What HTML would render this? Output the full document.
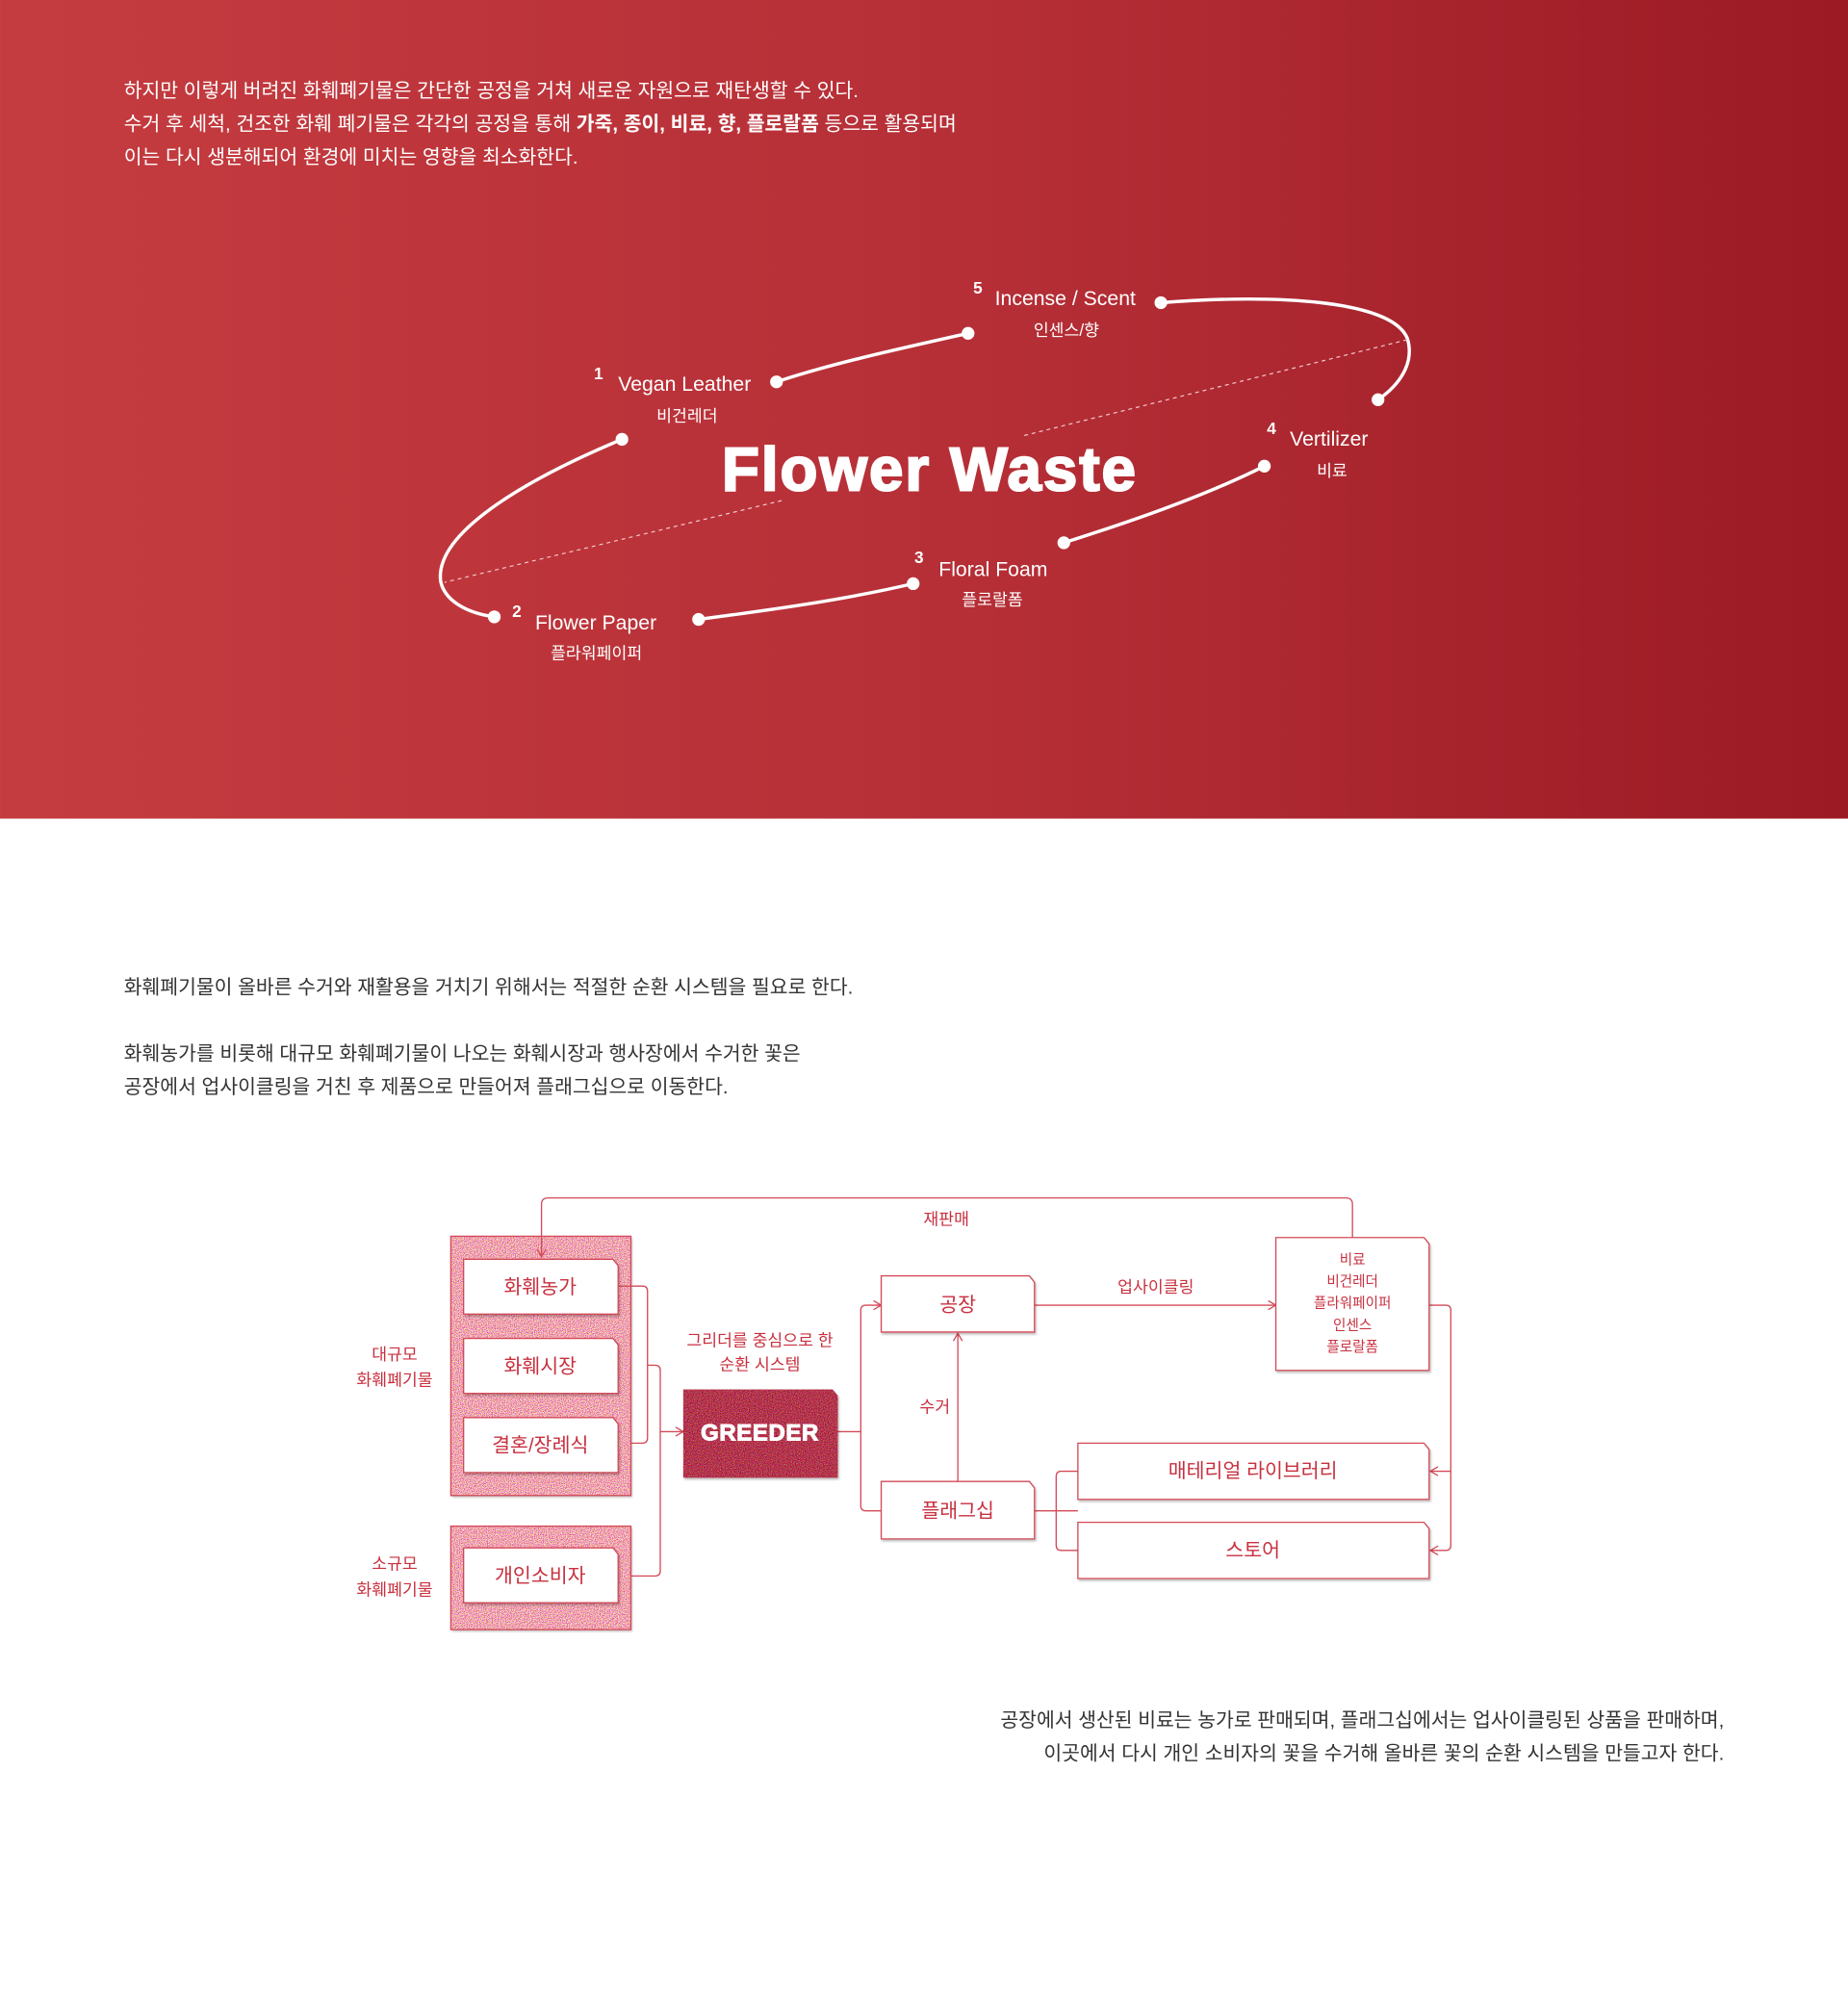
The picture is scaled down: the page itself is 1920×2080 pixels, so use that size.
<!DOCTYPE html>
<html><head><meta charset="utf-8"><style>
html,body{margin:0;padding:0;background:#fff;}
svg{display:block;}
text{font-family:"Liberation Sans","Noto Sans CJK KR",sans-serif;}
</style></head><body>
<svg width="1920" height="2080" viewBox="0 0 1447 1567.6" xmlns="http://www.w3.org/2000/svg">
<defs>
<linearGradient id="bg" x1="0" y1="0" x2="1" y2="0">
<stop offset="0" stop-color="#c53c40"/><stop offset="0.55" stop-color="#b52e36"/><stop offset="1" stop-color="#9b1a24"/>
</linearGradient>
<filter id="pinknoise" x="0" y="0" width="100%" height="100%" color-interpolation-filters="sRGB">
<feTurbulence type="fractalNoise" baseFrequency="1.6" numOctaves="1" seed="3"/>
<feColorMatrix values="0.8 0 0 0 0.55  0 2.4 0 0 -0.55  0 0 2.2 0 -0.4  0 0 0 0 1"/>
</filter>
<filter id="rednoise" x="0" y="0" width="100%" height="100%" color-interpolation-filters="sRGB">
<feTurbulence type="fractalNoise" baseFrequency="1.6" numOctaves="1" seed="7"/>
<feColorMatrix values="1.2 0 0 0 0.1  0 1.6 0 0 -0.6  0 0 1.6 0 -0.5  0 0 0 0 1"/>
</filter>
<filter id="sh"><feDropShadow dx="1" dy="1.5" stdDeviation="0.8" flood-color="#000" flood-opacity="0.25"/></filter>
<marker id="ar" markerWidth="8" markerHeight="8" refX="7" refY="4" orient="auto" markerUnits="userSpaceOnUse">
<path d="M1,0.5 L7,4 L1,7.5" fill="none" stroke="#d34a58" stroke-width="1"/></marker>
</defs>

<rect x="0" y="0" width="1447" height="641" fill="url(#bg)"/>
<g fill="#fff" font-size="15.4">
<text x="97" y="76">하지만 이렇게 버려진 화훼폐기물은 간단한 공정을 거쳐 새로운 자원으로 재탄생할 수 있다.</text>
<text x="97" y="102">수거 후 세척, 건조한 화훼 폐기물은 각각의 공정을 통해 <tspan font-weight="bold">가죽, 종이, 비료, 향, 플로랄폼</tspan> 등으로 활용되며</text>
<text x="97" y="128">이는 다시 생분해되어 환경에 미치는 영향을 최소화한다.</text>
</g>

<g stroke="#fff" stroke-width="2.6" fill="none" stroke-linecap="round">
<path d="M909,237 C1000,230 1090,235 1102,265 C1108,285 1095,302 1079,313"/>
<path d="M758,261 C700,274 650,285 608,299"/>
<path d="M487,344 C420,372 340,415 345,455 C348,470 365,480 387,483"/>
<path d="M547,485 C600,478 660,470 715,457"/>
<path d="M833,425 C880,410 940,390 990,365"/>
</g>
<g stroke="#f3c9cc" stroke-width="0.9" stroke-dasharray="3,3" fill="none">
<line x1="802" y1="341" x2="1102" y2="266"/>
<line x1="612" y1="392" x2="348" y2="456"/>
</g>
<g fill="#fff">
<circle cx="909" cy="237" r="5"/><circle cx="1079" cy="313" r="5"/>
<circle cx="758" cy="261" r="5"/><circle cx="608" cy="299" r="5"/>
<circle cx="487" cy="344" r="5"/><circle cx="387" cy="483" r="5"/>
<circle cx="547" cy="485" r="5"/><circle cx="715" cy="457" r="5"/>
<circle cx="833" cy="425" r="5"/><circle cx="990" cy="365" r="5"/>
</g>
<g fill="#fff">
<text x="762" y="230" font-size="13" font-weight="bold">5</text>
<text x="779" y="239" font-size="16">Incense / Scent</text>
<text x="835" y="263" font-size="13" text-anchor="middle">인센스/향</text>
<text x="465" y="297" font-size="13" font-weight="bold">1</text>
<text x="484" y="306" font-size="16">Vegan Leather</text>
<text x="538" y="330" font-size="13" text-anchor="middle">비건레더</text>
<text x="401" y="483" font-size="13" font-weight="bold">2</text>
<text x="419" y="493" font-size="16">Flower Paper</text>
<text x="467" y="516" font-size="13" text-anchor="middle">플라워페이퍼</text>
<text x="716" y="441" font-size="13" font-weight="bold">3</text>
<text x="735" y="451" font-size="16">Floral Foam</text>
<text x="777" y="474" font-size="13" text-anchor="middle">플로랄폼</text>
<text x="992" y="340" font-size="13" font-weight="bold">4</text>
<text x="1010" y="349" font-size="16">Vertilizer</text>
<text x="1043" y="373" font-size="13" text-anchor="middle">비료</text>
<text x="728" y="384" font-size="48" font-weight="bold" text-anchor="middle" letter-spacing="1.5" stroke="#fff" stroke-width="1.6">Flower Waste</text>
</g>

<g fill="#333" font-size="15.4">
<text x="97" y="778">화훼폐기물이 올바른 수거와 재활용을 거치기 위해서는 적절한 순환 시스템을 필요로 한다.</text>
<text x="97" y="830">화훼농가를 비롯해 대규모 화훼폐기물이 나오는 화훼시장과 행사장에서 수거한 꽃은</text>
<text x="97" y="856">공장에서 업사이클링을 거친 후 제품으로 만들어져 플래그십으로 이동한다.</text>
<text x="1350" y="1352" text-anchor="end">공장에서 생산된 비료는 농가로 판매되며, 플래그십에서는 업사이클링된 상품을 판매하며,</text>
<text x="1350" y="1378" text-anchor="end">이곳에서 다시 개인 소비자의 꽃을 수거해 올바른 꽃의 순환 시스템을 만들고자 한다.</text>
</g>

<!-- pink noisy panels -->
<g filter="url(#sh)">
<rect x="353" y="968" width="141" height="203" fill="#e9a3ad"/>
<rect x="353" y="1195" width="141" height="81" fill="#e9a3ad"/>
</g>
<rect x="353" y="968" width="141" height="203" fill="#fff" filter="url(#pinknoise)"/>
<rect x="353" y="1195" width="141" height="81" fill="#fff" filter="url(#pinknoise)"/>
<rect x="353" y="968" width="141" height="203" fill="none" stroke="#d34a58" stroke-width="1"/>
<rect x="353" y="1195" width="141" height="81" fill="none" stroke="#d34a58" stroke-width="1"/>

<!-- diagram -->
<g stroke="#d34a58" stroke-width="1" fill="none">
<path d="M1059,969 V943 Q1059,938 1054,938 H429 Q424,938 424,943 V984" marker-end="url(#ar)"/>
<path d="M484,1007 H503 Q507,1007 507,1011 V1126 Q507,1130 503,1130 H494"/>
<path d="M507,1069 H513 Q517,1069 517,1073 V1230 Q517,1234 513,1234 H494"/>
<path d="M517,1121 H535" marker-end="url(#ar)"/>
<path d="M656,1121 H674"/>
<path d="M690,1022 H678 Q674,1022 674,1026 V1179 Q674,1183 678,1183 H690"/>
<path d="M686,1022 H690" marker-end="url(#ar)"/>
<path d="M750,1160 V1044" marker-end="url(#ar)"/>
<path d="M810,1022 H999" marker-end="url(#ar)"/>
<path d="M1119,1022 H1132 Q1136,1022 1136,1026 V1210 Q1136,1214 1132,1214 H1120" marker-end="url(#ar)"/>
<path d="M1136,1152 H1120" marker-end="url(#ar)"/>
<path d="M810,1183 H844"/>
<path d="M844,1152 H831 Q827,1152 827,1156 V1210 Q827,1214 831,1214 H844"/>
</g>
<g fill="#c8303f" font-size="13" text-anchor="middle">
<text x="741" y="959">재판매</text>
<text x="905" y="1012">업사이클링</text>
<text x="732" y="1106">수거</text>
<text x="595" y="1054">그리더를 중심으로 한</text>
<text x="595" y="1073">순환 시스템</text>
<text x="309" y="1065">대규모</text>
<text x="309" y="1085">화훼폐기물</text>
<text x="309" y="1229">소규모</text>
<text x="309" y="1249">화훼폐기물</text>
</g>

<g fill="#fff" stroke="#d34a58" stroke-width="1" filter="url(#sh)">
<path d="M363,986 H480 L484,991 V1029 H363 Z"/>
<path d="M363,1048 H480 L484,1053 V1091 H363 Z"/>
<path d="M363,1110 H480 L484,1115 V1153 H363 Z"/>
<path d="M363,1212 H480 L484,1217 V1255 H363 Z"/>
<path d="M690,999 H806 L810,1004 V1043 H690 Z"/>
<path d="M690,1160 H806 L810,1165 V1205 H690 Z"/>
<path d="M999,969 H1115 L1119,974 V1073 H999 Z"/>
<path d="M844,1130 H1115 L1119,1135 V1174 H844 Z"/>
<path d="M844,1192 H1115 L1119,1197 V1236 H844 Z"/>
</g>
<g fill="#c8303f" font-size="15.5" text-anchor="middle">
<text x="423" y="1013">화훼농가</text>
<text x="423" y="1075">화훼시장</text>
<text x="423" y="1137">결혼/장례식</text>
<text x="423" y="1239">개인소비자</text>
<text x="750" y="1027">공장</text>
<text x="750" y="1188">플래그십</text>
<text x="981" y="1157">매테리얼 라이브러리</text>
<text x="981" y="1219">스토어</text>
</g>
<g fill="#c8303f" font-size="11" text-anchor="middle">
<text x="1059" y="990">비료</text>
<text x="1059" y="1007">비건레더</text>
<text x="1059" y="1024">플라워페이퍼</text>
<text x="1059" y="1041">인센스</text>
<text x="1059" y="1058">플로랄폼</text>
</g>

<!-- GREEDER -->
<g filter="url(#sh)">
<path d="M535,1088 H652 L656,1093 V1157 H535 Z" fill="#b5202e"/>
</g>
<g clip-path="url(#gc)">
<clipPath id="gc"><path d="M535,1088 H652 L656,1093 V1157 H535 Z"/></clipPath>
<rect x="535" y="1088" width="121" height="69" fill="#fff" filter="url(#rednoise)"/>
</g>
<text x="595" y="1128" fill="#fff" font-size="18" font-weight="bold" text-anchor="middle" letter-spacing="0.5" stroke="#fff" stroke-width="0.8">GREEDER</text>
</svg>
</body></html>
